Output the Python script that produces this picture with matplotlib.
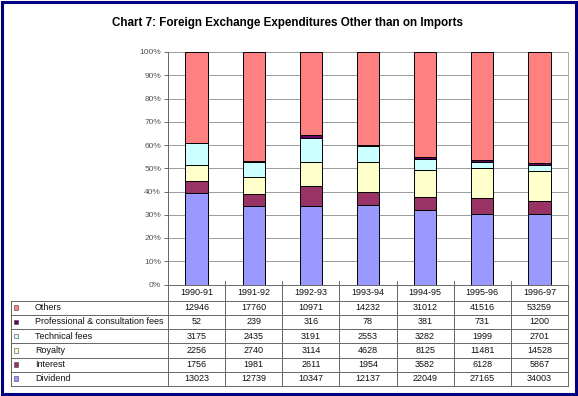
import numpy as np
import matplotlib
matplotlib.use("Agg")
import matplotlib.pyplot as plt
from matplotlib.patches import Rectangle
from matplotlib.lines import Line2D

plt.rcParams['font.family'] = ['Liberation Sans', 'DejaVu Sans']

years = ['1990-91', '1991-92', '1992-93', '1993-94', '1994-95', '1995-96', '1996-97']
dividend = [13023, 12739, 10347, 12137, 22049, 27165, 34003]
interest = [1756, 1981, 2611, 1954, 3582, 6128, 5867]
royalty = [2256, 2740, 3114, 4628, 8125, 11481, 14528]
technical = [3175, 2435, 3191, 2553, 3282, 1999, 2701]
professional = [52, 239, 316, 78, 381, 731, 1200]
others = [12946, 17760, 10971, 14232, 31012, 41516, 53259]

# bottom-to-top stacking order
names = ['Dividend', 'Interest', 'Royalty', 'Technical fees',
         'Professional & consultation fees', 'Others']
series = [dividend, interest, royalty, technical, professional, others]
colors = ['#9999FF', '#993366', '#FFFFCC', '#CCFFFF', '#660066', '#FF8080']

W, H = 578, 396
fig = plt.figure(figsize=(W / 100, H / 100), dpi=100)

def fx(px):
    return px / W

def fy(py):
    return 1 - py / H

ax_l, ax_r, ax_t, ax_b = 168, 568, 52, 284.5
ax = fig.add_axes([fx(ax_l), fy(ax_b), fx(ax_r - ax_l), (ax_b - ax_t) / H])

data = np.array(series, dtype=float)
pct = data / data.sum(axis=0) * 100
x = np.arange(len(years))
bottom = np.zeros(len(years))
for vals, c in zip(pct, colors):
    ax.bar(x, vals, bottom=bottom, width=0.39, color=c, edgecolor='black',
           linewidth=0.7, zorder=3)
    bottom += vals

ax.set_xlim(-0.5, len(years) - 0.5)
ax.set_ylim(0, 100)
ax.set_yticks(np.arange(0, 101, 10))
ax.set_yticklabels([f'{v}%' for v in range(0, 101, 10)])
ax.tick_params(axis='y', labelsize=6, labelcolor='#555555', length=3,
               width=0.6, color='#555555', pad=2)
ax.set_xticks([])
ax.grid(axis='y', color='#999999', linewidth=0.7, zorder=0)
for s in ['top', 'bottom']:
    ax.spines[s].set_visible(False)
ax.spines['right'].set_color('#aaaaaa')
ax.spines['right'].set_linewidth(0.7)
ax.spines['left'].set_color('#666666')
ax.spines['left'].set_linewidth(0.7)

# data table below the plot
tab_l = 11
col_w = (ax_r - ax_l) / len(years)
row_y = [ax_b, 300.7, 314.7, 329, 343.3, 357.7, 371.7, 385.7]
lc = '#666666'

def hline(x0, x1, y):
    fig.add_artist(Line2D([fx(x0), fx(x1)], [fy(y), fy(y)], color=lc, linewidth=0.7))

def vline(x0, y0, y1):
    fig.add_artist(Line2D([fx(x0), fx(x0)], [fy(y0), fy(y1)], color=lc, linewidth=0.7))

hline(ax_l, ax_r, row_y[0])
for y in row_y[1:]:
    hline(tab_l, ax_r, y)
vline(tab_l, row_y[1], row_y[-1])
for i in range(len(years) + 1):
    vline(ax_l + i * col_w, row_y[0] - 4 if 0 < i < len(years) else row_y[0], row_y[-1])

fs = 6.5
for i, yr in enumerate(years):
    fig.text(fx(ax_l + (i + 0.5) * col_w), fy((row_y[0] + row_y[1]) / 2), yr,
             ha='center', va='center', fontsize=fs, color='#111111')

# table rows listed top-to-bottom (reverse of stacking)
for r, k in enumerate(range(len(names) - 1, -1, -1)):
    yc = (row_y[r + 1] + row_y[r + 2]) / 2
    fig.add_artist(Rectangle((fx(13.5), fy(yc + 2.3)), fx(4.6), 4.6 / H,
                             facecolor=colors[k], edgecolor='#444444', linewidth=0.4))
    fig.text(fx(35), fy(yc), names[k], ha='left', va='center', fontsize=fs,
             color='#111111')
    for i, v in enumerate(series[k]):
        fig.text(fx(ax_l + (i + 0.5) * col_w), fy(yc), str(v), ha='center',
                 va='center', fontsize=fs, color='#111111')

fig.text(fx(288), fy(23), 'Chart 7: Foreign Exchange Expenditures Other than on Imports',
         ha='center', va='center', fontsize=8.4, fontweight='bold')

# navy outer frame
fig.add_artist(Rectangle((0.003, 0.004), 0.994, 0.992, transform=fig.transFigure,
                         fill=False, edgecolor='#000080', linewidth=2.2))

fig.savefig('out.png', dpi=100)
